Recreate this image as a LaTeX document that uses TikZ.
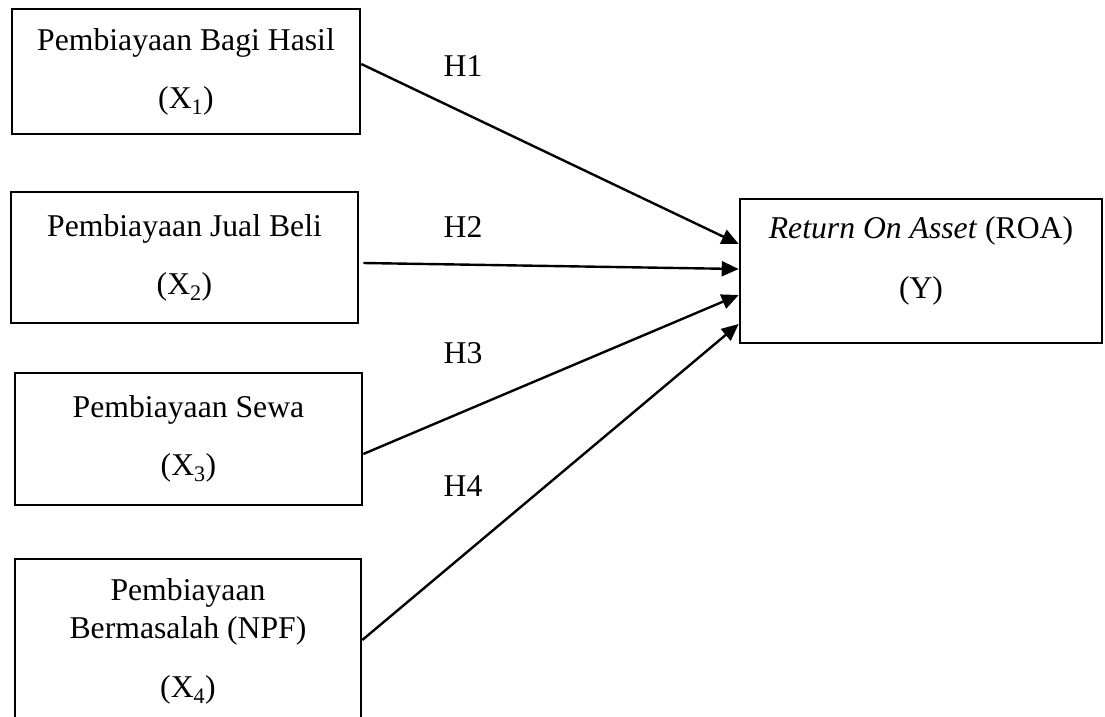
\documentclass[tikz,border=0pt]{standalone}
\usepackage{fontspec}
\setmainfont{Liberation Serif}
\usetikzlibrary{arrows.meta,calc}
\begin{document}
\begin{tikzpicture}[x=1pt,y=-1pt,
  box/.style={draw, line width=2.6pt, rectangle, align=center, inner sep=0pt,
    font=\fontsize{31.7}{38}\selectfont},
  conn/.style={line width=2.4pt, -{Triangle[length=17pt,width=15pt]}},
  hyp/.style={font=\fontsize{31.7}{38}\selectfont, inner sep=0pt}]
\useasboundingbox (0,0) rectangle (1105,717);
\clip (0,0) rectangle (1105,717);
\node[box, minimum width=348pt, minimum height=125pt] (b1) at (186,71.5)
  {Pembiayaan Bagi Hasil\\[20pt](X\textsubscript{1})};
\node[box, minimum width=347pt, minimum height=131pt] (b2) at (184.5,257.5)
  {Pembiayaan Jual Beli\\[20pt](X\textsubscript{2})};
\node[box, minimum width=347pt, minimum height=132pt] (b3) at (188.5,439)
  {Pembiayaan Sewa\\[20pt](X\textsubscript{3})};
\node[box, minimum width=346pt, minimum height=164pt] (b4) at (188,641)
  {Pembiayaan\\Bermasalah (NPF)\\[21pt](X\textsubscript{4})};
\node[box, minimum width=362pt, minimum height=144pt] (y) at (921,271)
  {\textit{Return On Asset} (ROA)\\[22pt](Y)\rule[-27pt]{0pt}{0pt}};
\coordinate (s1) at (b1.east |- 0,64);
\coordinate (s2) at ($(b2.east |- 0,263)+(4,0)$);
\coordinate (s3) at (b3.east |- 0,454);
\coordinate (s4) at (b4.east |- 0,640);
\coordinate (t1) at (y.west |- 0,244);
\coordinate (t2) at (y.west |- 0,269);
\coordinate (t3) at (y.west |- 0,295);
\coordinate (t4) at (y.west |- 0,324);
\draw[conn] (s1) -- (t1);
\draw[conn] (s2) -- (t2);
\draw[conn] (s3) -- (t3);
\draw[conn] (s4) -- (t4);
\node[hyp] (h1) at (463,66) {H1};
\node[hyp] (h2) at (463,227) {H2};
\node[hyp] (h3) at (463,353) {H3};
\node[hyp] (h4) at (463,486) {H4};
\end{tikzpicture}
\end{document}
